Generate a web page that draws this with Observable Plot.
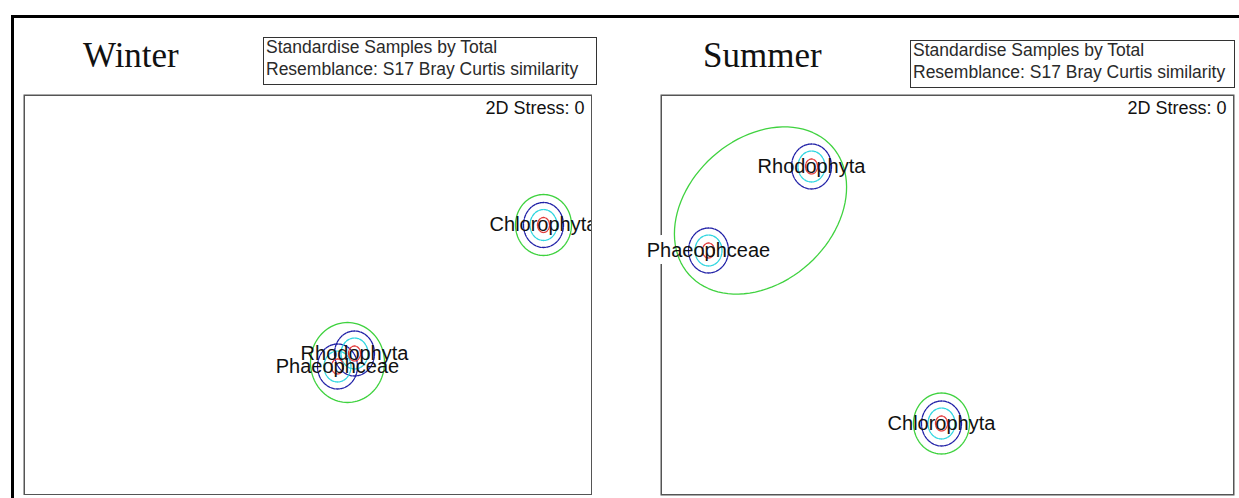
<!DOCTYPE html>
<html><head><meta charset="utf-8">
<script src="https://cdn.jsdelivr.net/npm/d3@7"></script>
<script src="https://cdn.jsdelivr.net/npm/@observablehq/plot@0.6"></script>
<style>
body{margin:0;background:#fff;}
#root{position:relative;width:1239px;height:498px;overflow:hidden;background:#fff;font-family:"Liberation Sans",Arial,sans-serif;}
.outer{position:absolute;left:11px;top:15px;right:-10px;bottom:-10px;border-left:3px solid #000;border-top:3px solid #000;}
.title{position:absolute;font-family:"Liberation Serif","Times New Roman",serif;font-size:35px;color:#111;line-height:35px;white-space:nowrap;}
.legend{position:absolute;border:1.5px solid #333;box-sizing:border-box;font-size:17.5px;line-height:22px;color:#2a2a2a;padding-left:2px;white-space:nowrap;overflow:hidden;}
.legend div{margin-top:-2px;}
.panel{position:absolute;}
</style></head>
<body>
<div id="root">
  <div class="outer"></div>
  <div class="title" style="left:83px;top:38px;">Winter</div>
  <div class="title" style="left:703px;top:38px;">Summer</div>
  <div class="legend" style="left:263px;top:37px;width:334px;height:48px;"><div>Standardise Samples by Total<br>Resemblance: S17 Bray Curtis similarity</div></div>
  <div class="legend" style="left:910px;top:40px;width:325px;height:48px;"><div>Standardise Samples by Total<br>Resemblance: S17 Bray Curtis similarity</div></div>
  <div class="panel" id="winter" style="left:23px;top:94px;"></div>
  <div class="panel" id="summer" style="left:660px;top:94px;"></div>
</div>
<script>
// ---- data (MDS coordinates, arbitrary units) ----
const taxa = ["Chlorophyta", "Rhodophyta", "Phaeophceae"];
const winterX = [5.20, 3.31, 3.14];
const winterY = [2.705, 1.42, 1.29];
const summerX = [2.81, 1.51, 0.48];
const summerY = [0.72, 3.29, 2.45];

// similarity contours around single samples (semi-axes)
const ringNames  = ["blue", "cyan", "red"];
const ringColors = ["#1f1fa6", "#2fd6e0", "#e23a3a"];
const ringRx     = [0.20, 0.135, 0.06];
const ringRy     = [0.225, 0.155, 0.075];

// green (lowest similarity) contours: [cx, cy, rx, ry, angleDeg]
const winterGreen = [[5.20, 2.705, 0.28, 0.305, 0], [3.24, 1.33, 0.37, 0.40, 0]];
const summerGreen = [[2.81, 0.72, 0.28, 0.305, 0], [1.00, 2.85, 0.96, 0.72, 42]];
const greenColor = "#3fd23f";

const stressText = ["2D Stress: 0"];

function ellipse(id, cx, cy, rx, ry, ang) {
  const a = ang * Math.PI / 180, out = [];
  for (let k = 0; k <= 96; k++) {
    const t = 2 * Math.PI * k / 96;
    const ex = rx * Math.cos(t), ey = ry * Math.sin(t);
    out.push({id, x: cx + ex * Math.cos(a) - ey * Math.sin(a), y: cy + ex * Math.sin(a) + ey * Math.cos(a)});
  }
  return out;
}

function panel(el, w, h, xs, ys, greens, summer) {
  const pts = taxa.map((t, i) => ({taxon: t, x: xs[i], y: ys[i]}));
  const marks = [];
  if (summer) {
    marks.push(Plot.frame({stroke: "#555", strokeWidth: 1.5, inset: 0.75}));
    marks.push(Plot.text(pts, {x: "x", y: "y", text: "taxon", fontSize: 20, fill: "white", stroke: "white", strokeWidth: 14}));
  }
  const gpts = greens.flatMap((g, i) => ellipse("g" + i, ...g));
  marks.push(Plot.line(gpts, {x: "x", y: "y", z: "id", stroke: greenColor, strokeWidth: 1.3}));
  ringNames.forEach((n, j) => {
    const rp = pts.flatMap((p, i) => ellipse(n + i, p.x, p.y, ringRx[j], ringRy[j], 0));
    marks.push(Plot.line(rp, {x: "x", y: "y", z: "id", stroke: ringColors[j], strokeWidth: 1.3, strokeDasharray: "3.5,1.2"}));
  });
  marks.push(Plot.text(pts, {x: "x", y: "y", text: "taxon", fontSize: 20, fill: "#111"}));
  marks.push(Plot.text(stressText, {frameAnchor: "top-right", text: d => d, dx: -8, dy: 14, lineAnchor: "middle", fontSize: 18, fill: "#111"}));
  if (!summer) marks.push(Plot.frame({stroke: "#555", strokeWidth: 1.5, inset: 0.75}));
  const svg = Plot.plot({
    width: w, height: h,
    marginTop: 0, marginRight: 0, marginBottom: 0, marginLeft: 0,
    x: {domain: [0, w / 100], axis: null},
    y: {domain: [0, h / 100], axis: null},
    style: {fontFamily: "'Liberation Sans', Arial, sans-serif", overflow: summer ? "visible" : "hidden", background: "transparent"},
    marks
  });
  document.getElementById(el).appendChild(svg);
}

panel("winter", 569, 401, winterX, winterY, winterGreen, false);
panel("summer", 574, 401, summerX, summerY, summerGreen, true);
</script>
</body></html>
